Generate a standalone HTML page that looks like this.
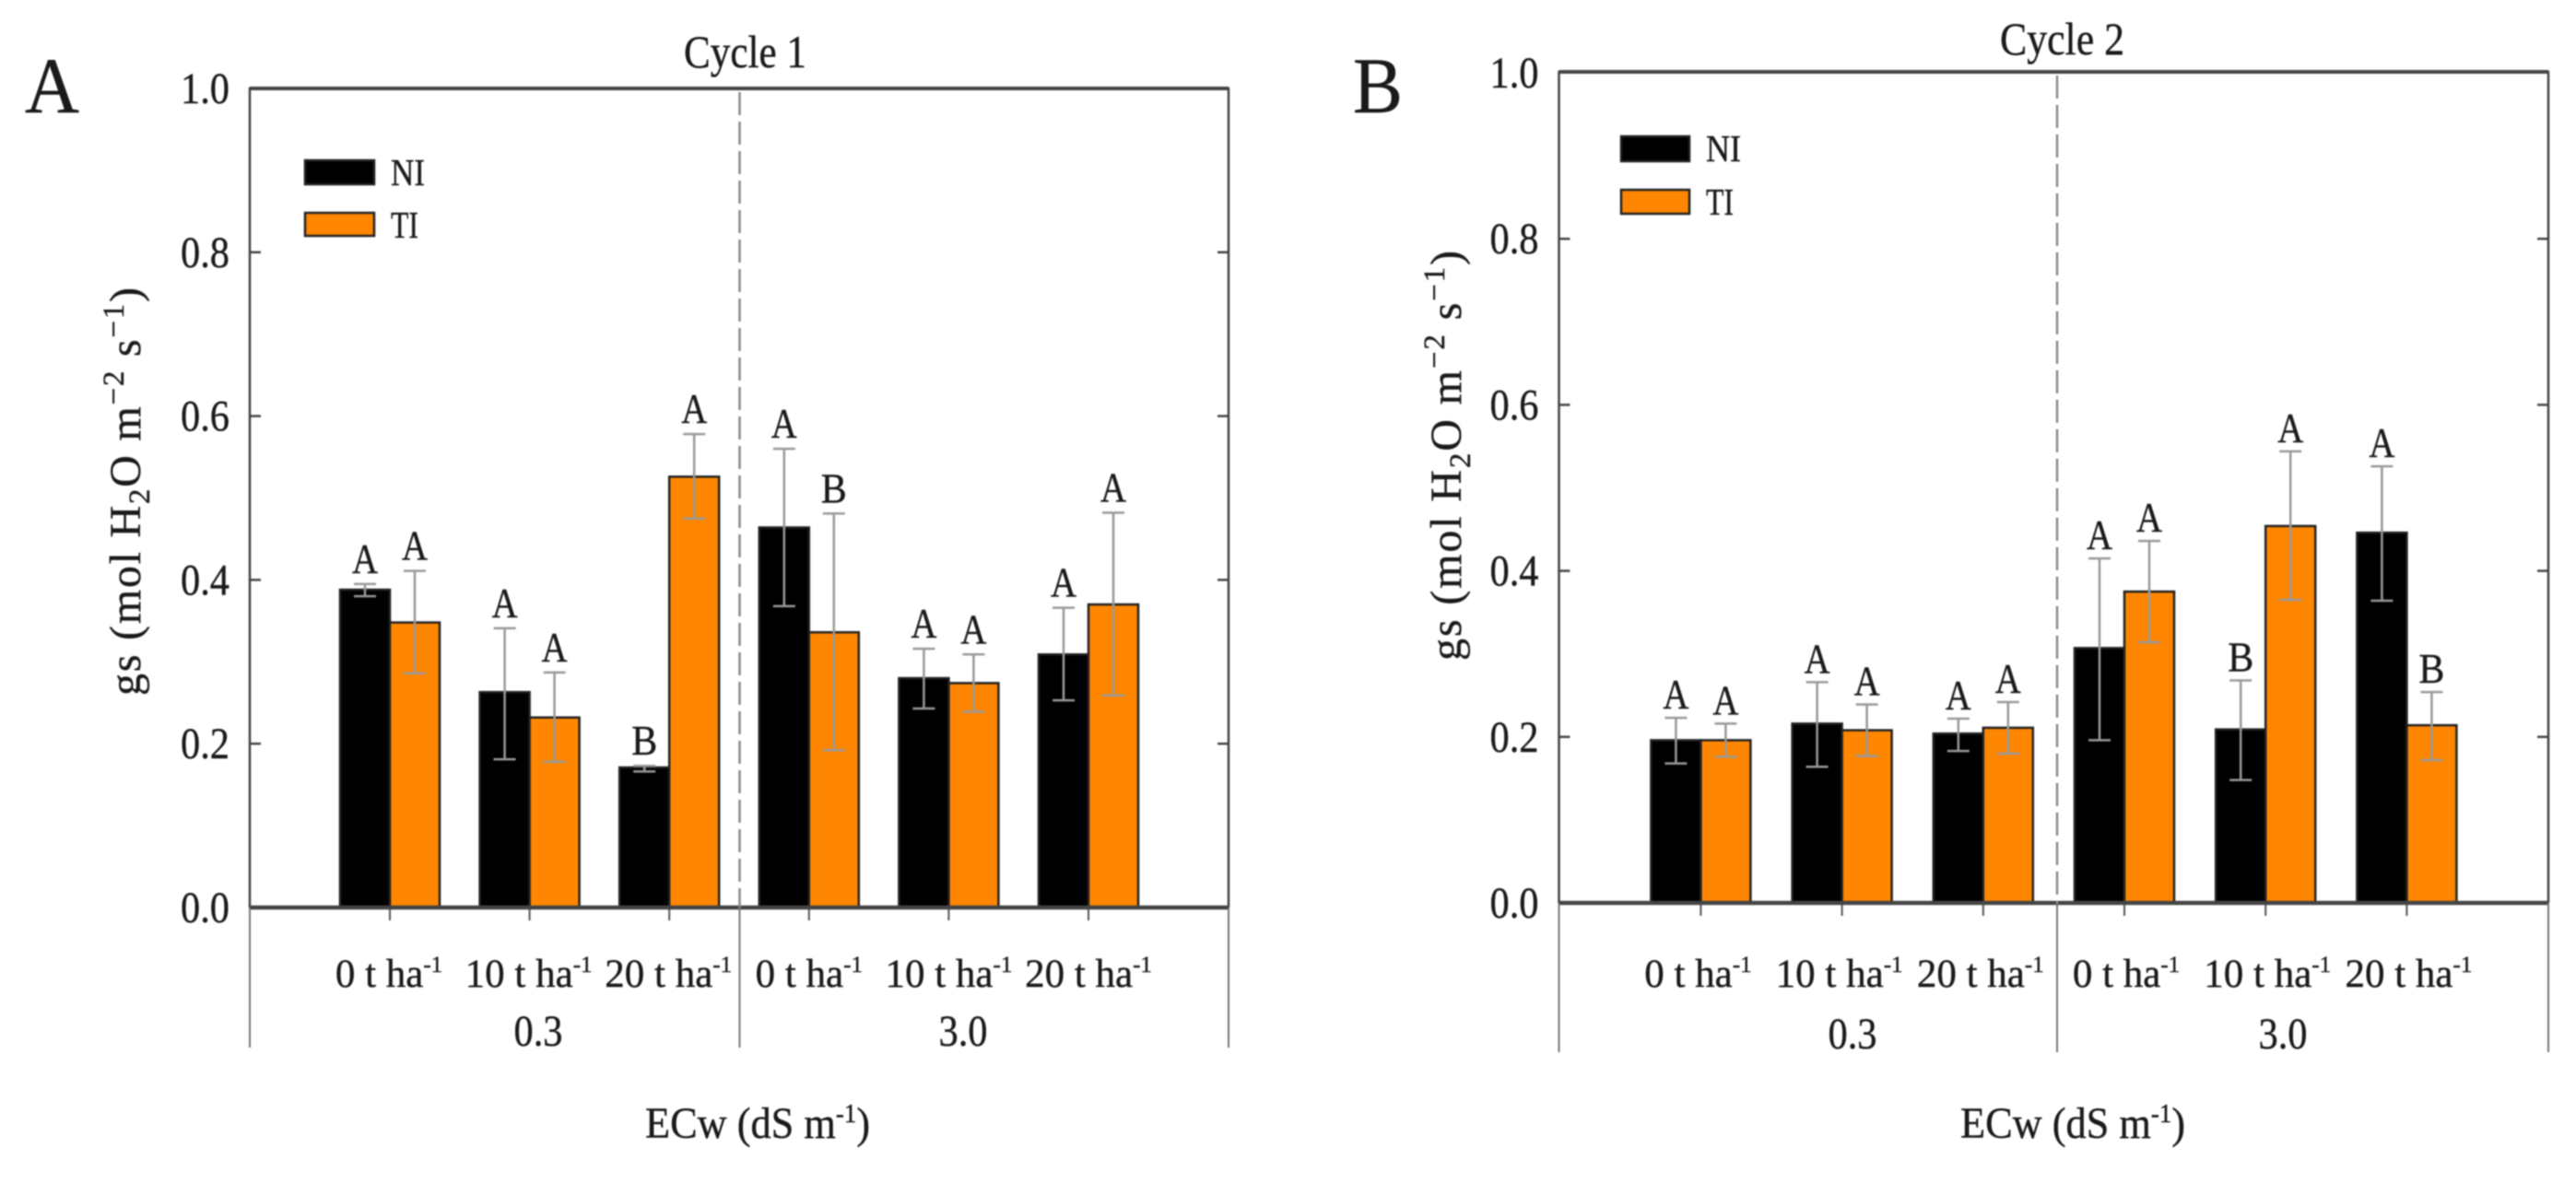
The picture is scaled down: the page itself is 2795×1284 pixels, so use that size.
<!DOCTYPE html>
<html lang="en">
<head>
<meta charset="utf-8">
<title>Stomatal conductance by cycle</title>
<style>
html,body{margin:0;padding:0;background:#fff;width:2795px;height:1284px;overflow:hidden}
svg{display:block;filter:blur(0.8px)}
text{font-family:"Liberation Serif",serif;fill:#1a1a1a;stroke:#1a1a1a;stroke-width:0.4px}
</style>
</head>
<body>
<svg id="figure" xmlns="http://www.w3.org/2000/svg" width="2795" height="1284" viewBox="0 0 2795 1284">
  <rect x="0" y="0" width="2795" height="1284" fill="#fff"/>
  <g id="panel-a">
    <text x="27" y="122" font-size="86" textLength="59" lengthAdjust="spacingAndGlyphs">A</text>
    <text x="742" y="73" font-size="50" textLength="133" lengthAdjust="spacingAndGlyphs">Cycle 1</text>
    <text transform="translate(152 755) rotate(-90)" font-size="48" textLength="443">gs (mol H<tspan font-size="33" dy="10">2</tspan><tspan dy="-10">O m</tspan><tspan font-size="33" dy="-18">−2</tspan><tspan dy="18"> s</tspan><tspan font-size="33" dy="-18">−1</tspan><tspan dy="18">)</tspan></text>
    <text x="700" y="1235" font-size="48" textLength="244" lengthAdjust="spacingAndGlyphs">ECw (dS m<tspan font-size="29" dy="-17">-1</tspan><tspan dy="17">)</tspan></text>
    <g>
      <rect x="331" y="174" width="75" height="26" fill="#000" stroke="#222" stroke-width="2.5"/>
      <text x="424" y="201" font-size="41" textLength="37" lengthAdjust="spacingAndGlyphs">NI</text>
      <rect x="331" y="231" width="75" height="25" fill="#ff8600" stroke="#222" stroke-width="2.5"/>
      <text x="424" y="258" font-size="41" textLength="30" lengthAdjust="spacingAndGlyphs">TI</text>
    </g>
  </g>
  <g id="panel-b">
    <text x="1468" y="122" font-size="86" textLength="54" lengthAdjust="spacingAndGlyphs">B</text>
    <text x="2170" y="59" font-size="50" textLength="135" lengthAdjust="spacingAndGlyphs">Cycle 2</text>
    <text transform="translate(1585 717) rotate(-90)" font-size="48" textLength="445">gs (mol H<tspan font-size="33" dy="10">2</tspan><tspan dy="-10">O m</tspan><tspan font-size="33" dy="-18">−2</tspan><tspan dy="18"> s</tspan><tspan font-size="33" dy="-18">−1</tspan><tspan dy="18">)</tspan></text>
    <text x="2127" y="1235" font-size="48" textLength="244" lengthAdjust="spacingAndGlyphs">ECw (dS m<tspan font-size="29" dy="-17">-1</tspan><tspan dy="17">)</tspan></text>
    <g>
      <rect x="1759" y="148" width="74" height="27" fill="#000" stroke="#222" stroke-width="2.5"/>
      <text x="1851" y="175" font-size="41" textLength="38" lengthAdjust="spacingAndGlyphs">NI</text>
      <rect x="1759" y="206" width="74" height="26" fill="#ff8600" stroke="#222" stroke-width="2.5"/>
      <text x="1851" y="233" font-size="41" textLength="30" lengthAdjust="spacingAndGlyphs">TI</text>
    </g>
  </g>
</svg>
<script>
var categories = ["0 t ha", "10 t ha", "20 t ha", "0 t ha", "10 t ha", "20 t ha"];
var ecLevels = ["0.3", "3.0"];
var yTickValues = [0, 0.2, 0.4, 0.6, 0.8, 1.0];
var yTickLabels = ["0.0", "0.2", "0.4", "0.6", "0.8", "1.0"];

var niA = [0.388, 0.263, 0.171, 0.464, 0.280, 0.309];
var tiA = [0.348, 0.232, 0.526, 0.336, 0.274, 0.370];
var niUpperA = [0.395, 0.341, 0.173, 0.560, 0.316, 0.366];
var niLowerA = [0.380, 0.181, 0.166, 0.368, 0.243, 0.253];
var tiUpperA = [0.411, 0.287, 0.578, 0.481, 0.309, 0.482];
var tiLowerA = [0.286, 0.178, 0.475, 0.192, 0.239, 0.259];
var niLettersA = ["A", "A", "B", "A", "A", "A"];
var tiLettersA = ["A", "A", "A", "B", "A", "A"];

var niB = [0.196, 0.216, 0.204, 0.307, 0.209, 0.446];
var tiB = [0.196, 0.208, 0.211, 0.375, 0.454, 0.214];
var niUpperB = [0.223, 0.266, 0.222, 0.415, 0.268, 0.526];
var niLowerB = [0.168, 0.164, 0.183, 0.196, 0.148, 0.364];
var tiUpperB = [0.216, 0.239, 0.242, 0.436, 0.544, 0.254];
var tiLowerB = [0.176, 0.177, 0.180, 0.314, 0.365, 0.172];
var niLettersB = ["A", "A", "A", "A", "B", "A"];
var tiLettersB = ["A", "A", "A", "A", "A", "B"];

var NS = "http://www.w3.org/2000/svg";

function make(tag, attrs, parent) {
  var el = document.createElementNS(NS, tag);
  for (var k in attrs) { el.setAttribute(k, attrs[k]); }
  parent.appendChild(el);
  return el;
}

function drawPanel(p) {
  var root = document.getElementById(p.id);
  function yScale(v) { return p.zeroY - p.unit * v; }
  function xScale(i) { return p.firstX + p.step * i; }

  var bars = make("g", {}, root);
  
  
  var errors = make("g", {}, root);
  
  
  var letters = make("g", {}, root);
  
  
  var axes = make("g", {}, root);
  
  

  function drawMark(centerX, barX, value, upper, lower, letter, fill, series, i) {
    var top = yScale(value);
    var bar = make("rect", {x: barX, y: top, width: p.barW, height: p.zeroY - top, fill: fill, stroke: "#222", "stroke-width": 2.5}, bars);
    
    

    var yU = yScale(upper);
    var yL = yScale(lower);
    var stem = make("line", {x1: centerX, x2: centerX, y1: yU, y2: yL, stroke: "#999", "stroke-width": 2.5}, errors);
    
    
    var capU = make("line", {x1: centerX - 12, x2: centerX + 12, y1: yU, y2: yU, stroke: "#999", "stroke-width": 2.5}, errors);
    
    
    var capL = make("line", {x1: centerX - 12, x2: centerX + 12, y1: yL, y2: yL, stroke: "#999", "stroke-width": 2.5}, errors);
    
    

    var lab = make("text", {x: centerX - 14, y: yU - p.letterGap, "font-size": 46, textLength: 28, lengthAdjust: "spacingAndGlyphs"}, letters);
    lab.textContent = letter;
    
    
  }

  categories.forEach(function (cat, i) {
    var c = xScale(i);
    drawMark(c - p.barW / 2, c - p.barW, p.ni[i], p.niUpper[i], p.niLower[i], p.niLetters[i], "#000", "ni", i);
    drawMark(c + p.barW / 2, c, p.ti[i], p.tiUpper[i], p.tiLower[i], p.tiLetters[i], "#ff8600", "ti", i);

    var tick = make("line", {x1: c, x2: c, y1: p.zeroY, y2: p.zeroY + 14, stroke: "#555", "stroke-width": 2}, axes);
    
    

    var t = make("text", {x: c + (i < 3 ? p.labelShiftLow : p.labelShiftHigh), y: 1071, "font-size": 43, "text-anchor": "middle"}, axes);
    
    
    t.appendChild(document.createTextNode(cat));
    var sup = make("tspan", {"font-size": 25, dy: -16}, t);
    sup.textContent = "-1";
  });

  yTickValues.forEach(function (v, i) {
    var y = yScale(v);
    if (v > 0 && v < 1) {
      var tl = make("line", {x1: p.left, x2: p.left + 12, y1: y, y2: y, stroke: "#444", "stroke-width": 2.5}, axes);
      
      
      var tr = make("line", {x1: p.right - 12, x2: p.right, y1: y, y2: y, stroke: "#444", "stroke-width": 2.5}, axes);
      
      
    }
    var label = make("text", {x: p.left - 75, y: y + 16, "font-size": 48, textLength: 53, lengthAdjust: "spacingAndGlyphs"}, axes);
    label.textContent = yTickLabels[i];
    
    
  });

  var frame = make("path", {d: "M" + p.left + " " + p.zeroY + "V" + p.topY + "H" + p.right + "V" + p.zeroY, fill: "none", stroke: "#444", "stroke-width": 2.5}, axes);
  
  
  var topLine = make("line", {x1: p.left, x2: p.right, y1: p.topY, y2: p.topY, stroke: "#444", "stroke-width": 4}, axes);
  
  
  var baseline = make("line", {x1: p.left, x2: p.right, y1: p.zeroY, y2: p.zeroY, stroke: "#444", "stroke-width": 4.5}, axes);
  
  

  var dash = make("line", {x1: p.mid, x2: p.mid, y1: p.topY + 4, y2: p.zeroY, stroke: "#888", "stroke-width": 2.5, "stroke-dasharray": "25 7"}, axes);
  
  

  var sepL = make("line", {x1: p.left, x2: p.left, y1: p.zeroY, y2: p.sepBottom, stroke: "#777", "stroke-width": 2}, axes);
  
  
  var sepM = make("line", {x1: p.mid, x2: p.mid, y1: p.zeroY, y2: p.sepBottom, stroke: "#777", "stroke-width": 2}, axes);
  
  
  var sepR = make("line", {x1: p.right, x2: p.right, y1: p.zeroY, y2: p.sepBottom, stroke: "#777", "stroke-width": 2}, axes);
  
  

  var ec1 = make("text", {x: p.ecLowX, y: p.ecY, "font-size": 48, "text-anchor": "middle", textLength: 53, lengthAdjust: "spacingAndGlyphs"}, axes);
  ec1.textContent = ecLevels[0];
  
  
  var ec2 = make("text", {x: p.ecHighX, y: p.ecY, "font-size": 48, "text-anchor": "middle", textLength: 53, lengthAdjust: "spacingAndGlyphs"}, axes);
  ec2.textContent = ecLevels[1];
  
  
}

drawPanel({
  id: "panel-a", ni: niA, ti: tiA, niUpper: niUpperA, niLower: niLowerA, tiUpper: tiUpperA, tiLower: tiLowerA,
  niLetters: niLettersA, tiLetters: tiLettersA,
  left: 271, right: 1333, topY: 96, mid: 802.5, zeroY: 985, unit: 889, sepBottom: 1137,
  firstX: 423, step: 151.6, barW: 54, letterGap: 12, labelShiftLow: -1, labelShiftHigh: 0,
  ecLowX: 584, ecHighX: 1045, ecY: 1135
});
drawPanel({
  id: "panel-b", ni: niB, ti: tiB, niUpper: niUpperB, niLower: niLowerB, tiUpper: tiUpperB, tiLower: tiLowerB,
  niLetters: niLettersB, tiLetters: tiLettersB,
  left: 1691.5, right: 2765, topY: 78, mid: 2232, zeroY: 980, unit: 901, sepBottom: 1142,
  firstX: 1845.4, step: 153.2, barW: 54, letterGap: 10, labelShiftLow: -3, labelShiftHigh: 2,
  ecLowX: 2010, ecHighX: 2477, ecY: 1138
});
</script>
</body>
</html>
